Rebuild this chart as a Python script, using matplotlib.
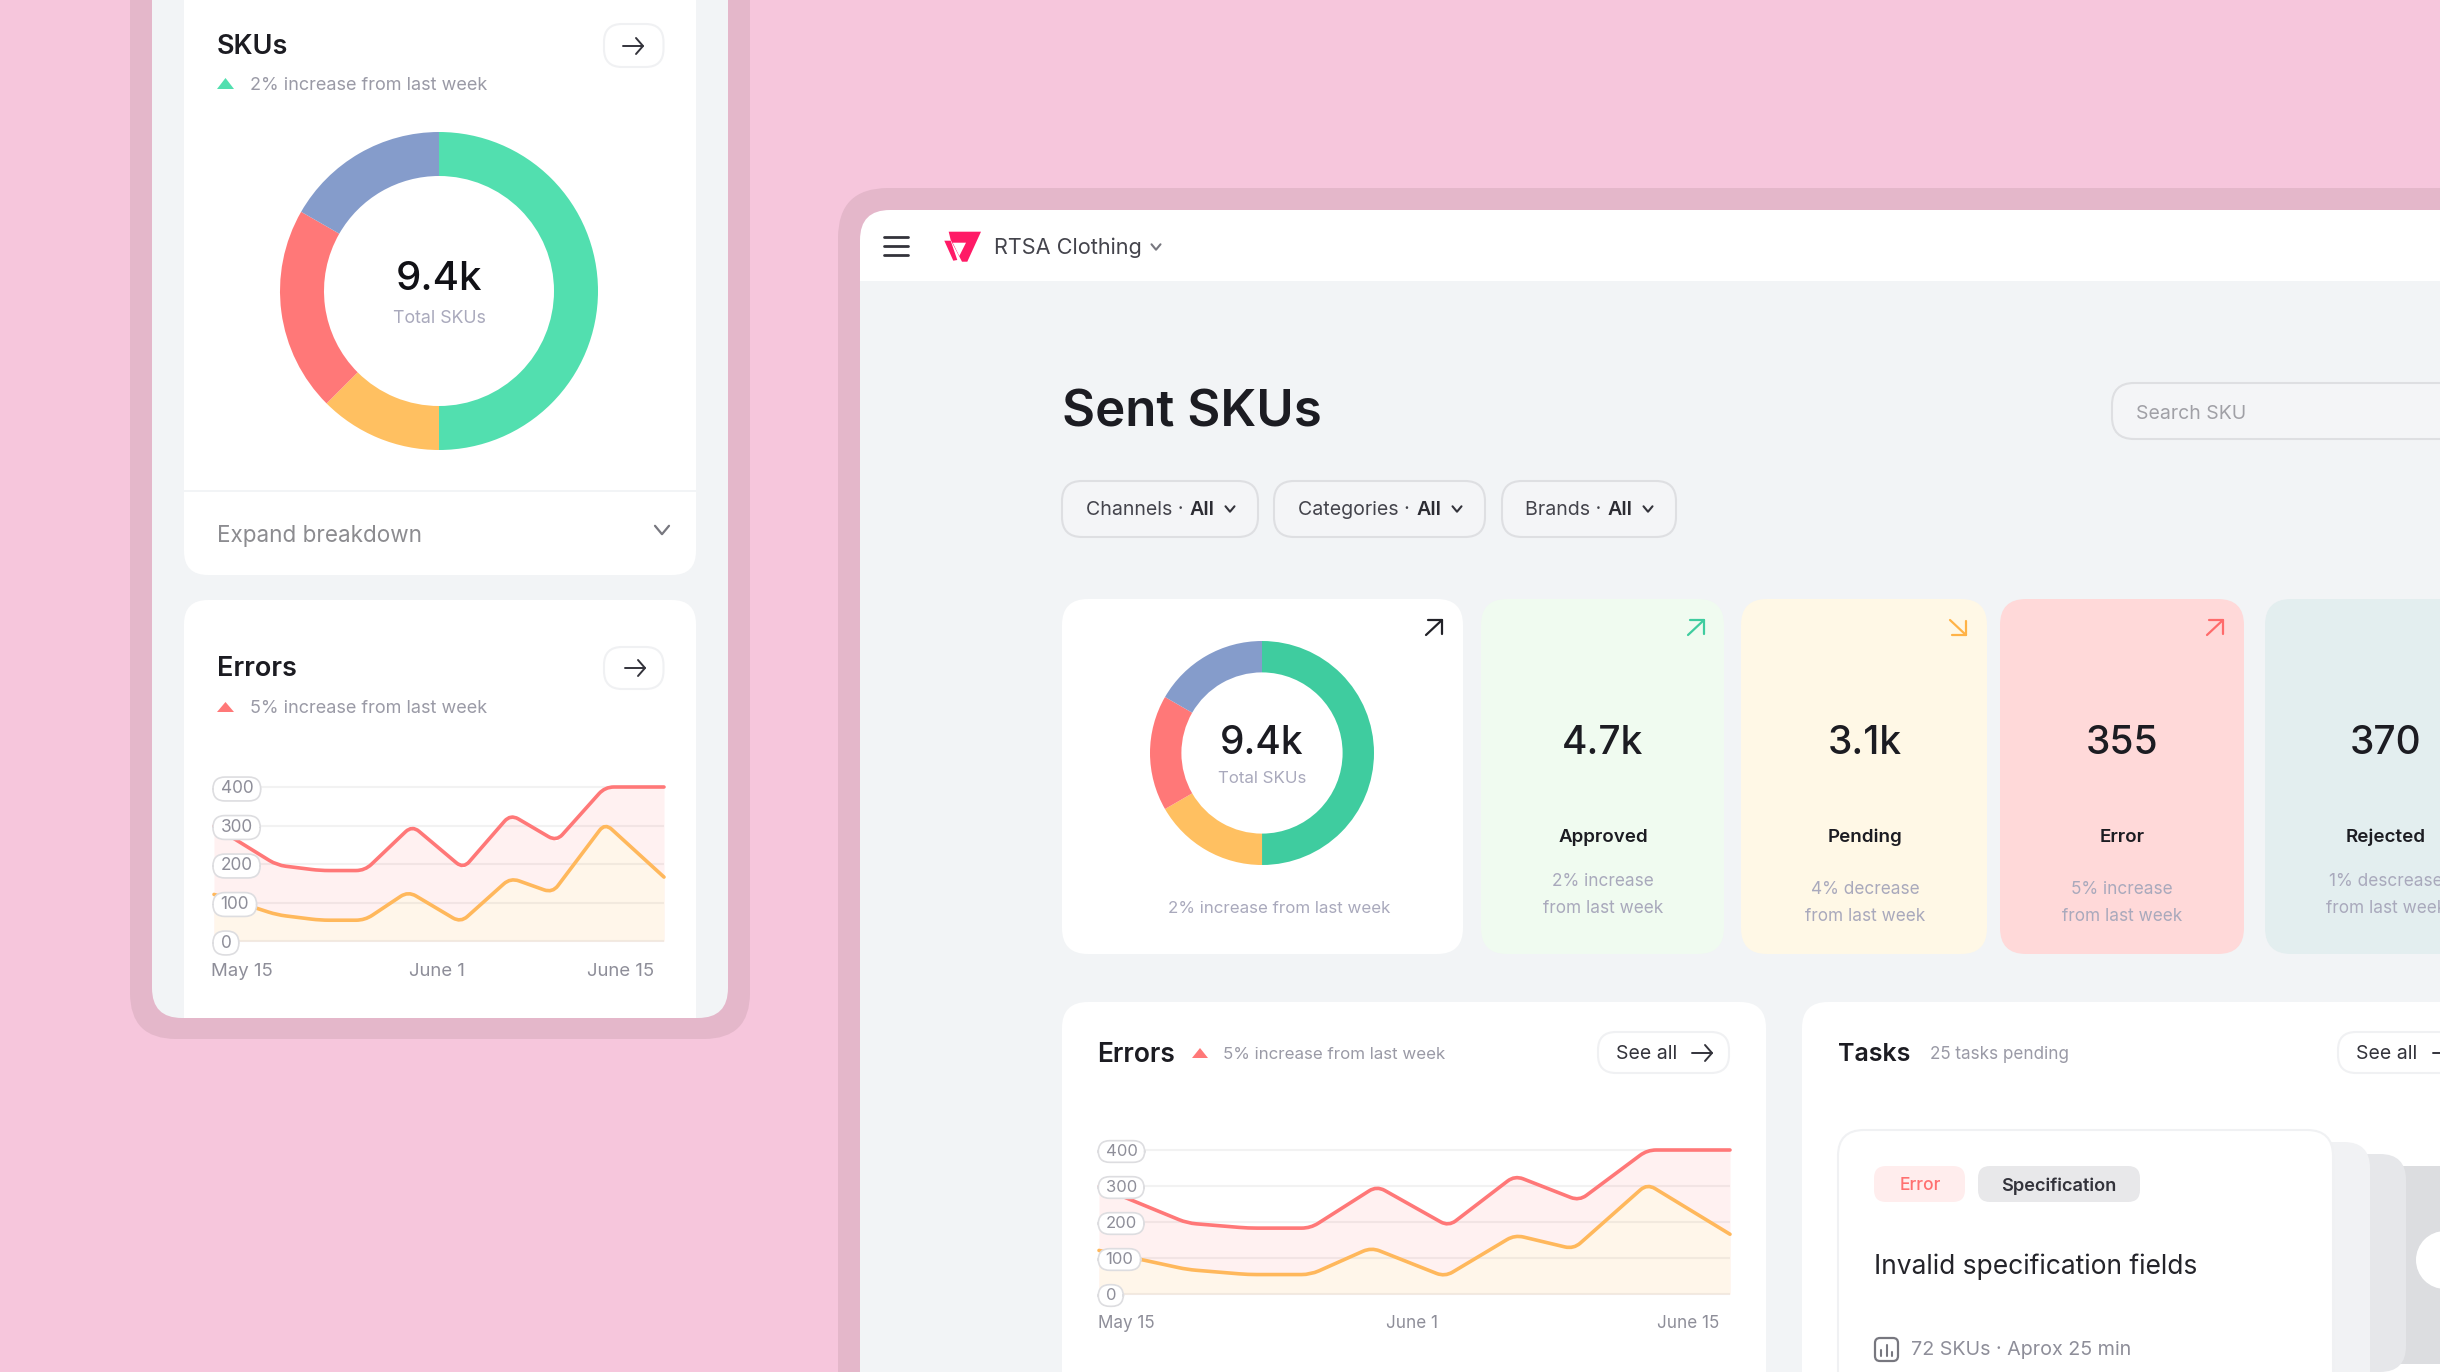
import matplotlib
matplotlib.use('Agg')
import matplotlib.pyplot as plt
from matplotlib.patches import FancyBboxPatch, Polygon, Rectangle, Circle, PathPatch, BoxStyle
from matplotlib.path import Path

plt.rcParams['font.family'] = ['Inter', 'DejaVu Sans']

W, H = 2440, 1372

# data
phone_donut = [50, 12.5, 20.8, 16.7]
main_donut = [50, 16.67, 16.67, 16.67]
donut_colors_phone = ['#52DFAF', '#FFC061', '#FF7878', '#859CCB']
donut_colors_main = ['#3FCC9F', '#FFC061', '#FF7878', '#859CCB']

red_days = [0, 4.8, 8.1, 11.5, 15.1, 19.0, 22.6, 26.1, 29.8, 34.3]
red_vals = [298, 197, 183, 183, 300, 188, 329, 259, 400, 400]
orange_days = [0, 4.8, 8.1, 11.5, 14.8, 18.8, 22.6, 25.8, 29.8, 34.3]
orange_vals = [121, 68, 54, 54, 129, 48, 164, 125, 306, 166]
y_ticks = [0, 100, 200, 300, 400]
x_labels = ['May 15', 'June 1', 'June 15']

card_values = ['4.7k', '3.1k', '355', '370']
card_names = ['Approved', 'Pending', 'Error', 'Rejected']
card_notes = [['2% increase', 'from last week'], ['4% decrease', 'from last week'],
              ['5% increase', 'from last week'], ['1% descrease', 'from last week']]

PINK = '#F6C6DC'
FRAME = '#E4B7CA'
GREY = '#F2F4F6'
INK = '#1C1C22'
MUTED = '#9A9AA6'
SOFT = '#A9A9BC'
RED = '#FF7878'
ORANGE = '#FFB85C'
GREEN = '#52DFAF'

fig = plt.figure(figsize=(W / 100, H / 100), dpi=100, facecolor=PINK)


def px_axes(x0, y0, x1, y1, z=1):
    return fig.add_axes([x0 / W, 1 - y1 / H, (x1 - x0) / W, (y1 - y0) / H], zorder=z)


bg = px_axes(0, 0, W, H, z=0)
fg = px_axes(0, 0, W, H, z=10)
for a in (bg, fg):
    a.set_xlim(0, W)
    a.set_ylim(H, 0)
    a.axis('off')


def rbox(x0, y0, x1, y1, r, fc, ec='none', lw=0, ax=bg):
    ax.add_patch(FancyBboxPatch((x0, y0), x1 - x0, y1 - y0, boxstyle=f'round,pad=0,rounding_size={r}',
                                fc=fc, ec=ec, lw=lw))


def T(x, y, s, size, color=INK, weight=400, ha='left'):
    # y is the middle of the capitals
    fg.text(x, y + 0.364 * size / 0.72, s, fontsize=size, color=color, fontweight=weight, ha=ha, va='baseline')


def stroke(xs, ys, color, lw=1.4):
    fg.plot(xs, ys, color=color, lw=lw, solid_capstyle='round', solid_joinstyle='round')


def arrow_right(x, y, color='#33333B', w=10):
    stroke([x - w, x + w], [y, y], color)
    stroke([x + w - 7, x + w, x + w - 7], [y - 8, y, y + 8], color)


def arrow_diag(x0, y0, x1, y1, color):
    stroke([x0, x1], [y0, y1], color, lw=1.6)
    sx = 1 if x1 > x0 else -1
    sy = 1 if y1 > y0 else -1
    stroke([x1 - sx * 14, x1, x1], [y1, y1, y1 - sy * 14], color, lw=1.6)


def chevron(x, y, w, color='#55555D', lw=1.5):
    stroke([x - w, x, x + w], [y - w * 0.6, y + w * 0.6, y - w * 0.6], color, lw)


def triangle(x0, x1, y0, y1, color):
    fg.add_patch(Polygon([(x0, y1), ((x0 + x1) / 2, y0), (x1, y1)], fc=color, ec='none'))


def rounded_line(ax, xs, ys, sx, sy, color, rad=9):
    # line with small rounded corners, rad in pixels
    verts = [(xs[0], ys[0])]
    codes = [Path.MOVETO]
    for i in range(1, len(xs) - 1):
        cur = (xs[i], ys[i])
        for j, other in enumerate([i - 1, i + 1]):
            dx = (xs[other] - xs[i]) * sx
            dy = (ys[other] - ys[i]) * sy
            t = min(rad / max((dx ** 2 + dy ** 2) ** 0.5, 1e-6), 0.5)
            p = (xs[i] + (xs[other] - xs[i]) * t, ys[i] + (ys[other] - ys[i]) * t)
            if j == 0:
                verts.append(p)
                codes.append(Path.LINETO)
            else:
                verts += [cur, p]
                codes += [Path.CURVE3, Path.CURVE3]
    verts.append((xs[-1], ys[-1]))
    codes.append(Path.LINETO)
    ax.add_patch(PathPatch(Path(verts, codes), fc='none', ec=color, lw=2.6, capstyle='round',
                           joinstyle='round', clip_on=False, zorder=2))


def donut(cx, cy, R, r, values, colors):
    ax = px_axes(cx - R, cy - R, cx + R, cy + R, z=2)
    ax.pie(values, colors=colors, startangle=90, counterclock=False, radius=1,
           wedgeprops=dict(width=1 - r / R, linewidth=0))
    ax.set_xlim(-1, 1)
    ax.set_ylim(-1, 1)


round_style = BoxStyle.Round(pad=0, rounding_size=0.7)


def pill(x0, y0, w, h, mutation_size):
    # tick label box, wider than it is tall around the digits
    dx = 0.44 * mutation_size
    dy = 0.2 * mutation_size
    return round_style(x0 - dx, y0 - dy, w + 2 * dx, h + 2 * dy, mutation_size)


def errors_chart(x0, x1, y400, y0, tick_days, label_pad, tick_size, label_size):
    ax = px_axes(x0, y400, x1, y0, z=3)
    ax.patch.set_alpha(0)
    ax.set_xlim(0, red_days[-1])
    ax.set_ylim(0, 400)
    ax.fill_between(red_days, red_vals, color='#FFF1F1', lw=0, zorder=1)
    ax.fill_between(orange_days, orange_vals, color='#FFF6EA', lw=0, zorder=1.1)
    ax.hlines(y_ticks, 0, red_days[-1], color='black', alpha=0.05, lw=1.6, zorder=1.5, clip_on=False)
    sx = (x1 - x0) / red_days[-1]
    sy = (y0 - y400) / 400
    rounded_line(ax, orange_days, orange_vals, sx, sy, ORANGE)
    rounded_line(ax, red_days, red_vals, sx, sy, RED)
    ax.set_axisbelow(False)
    for s in ax.spines.values():
        s.set_visible(False)
    ax.set_yticks(y_ticks)
    ax.set_yticklabels([str(v) for v in y_ticks], fontsize=tick_size, color='#8E8E99')
    ax.set_xticks(tick_days)
    ax.set_xticklabels(x_labels, fontsize=label_size, color='#8E8E99')
    ax.tick_params(axis='y', length=0, pad=-4.7)
    ax.tick_params(axis='x', length=0, pad=label_pad)
    for lab in ax.get_yticklabels():
        lab.set_ha('left')
        lab.set_bbox(dict(boxstyle=pill, fc='white', ec='#DDDDE0', lw=1.2))


# phone on the left
rbox(130, -80, 750, 1039, 46, FRAME)
rbox(152, -80, 728, 1018, 30, GREY)
rbox(184, -60, 696, 575, 24, 'white')
bg.add_patch(Rectangle((184, 490), 512, 2, fc=GREY, ec='none'))
rbox(184, 600, 696, 700, 24, 'white')
bg.add_patch(Rectangle((184, 650), 512, 368, fc='white', ec='none'))

T(217, 44, 'SKUs', 19.5, weight=600)
rbox(604, 24, 663.5, 67, 18, 'white', ec='#F0F1F3', lw=1.5)
arrow_right(633, 46)
triangle(217, 234, 78, 89, GREEN)
T(250, 83.5, '2% increase from last week', 13, MUTED)
donut(439, 291, 159, 115, phone_donut, donut_colors_phone)
T(439, 275.5, '9.4k', 29, '#111116', 500, ha='center')
T(439, 317, 'Total SKUs', 12.8, SOFT, ha='center')
T(217, 534, 'Expand breakdown', 16.2, '#8C8C90')
chevron(662, 530, 7, '#77777F', 1.6)

T(217, 666, 'Errors', 19.5, weight=600)
rbox(604, 647, 663.5, 689, 18, 'white', ec='#F0F1F3', lw=1.5)
arrow_right(635, 668)
triangle(217, 234, 702, 712, RED)
T(250, 706, '5% increase from last week', 13, MUTED)
errors_chart(214, 664, 787, 941, [2.1, 17.0, 31.0], 16, 12.4, 13.4)

# main window
rbox(838, 188, 2700, 1600, 50, FRAME)
rbox(860, 210, 2700, 1600, 30, 'white')
bg.add_patch(Rectangle((860, 281), W - 860, H - 281, fc=GREY, ec='none'))

for y in (237, 246, 255):
    stroke([884, 908], [y, y], '#33333B', 2.0)
fg.add_patch(Polygon([(948.7, 231.7), (981, 231.7), (967.3, 261.7), (962, 261.7), (950.7, 240)], fc='#FF1A66', ec='none'))
fg.add_patch(Polygon([(944.3, 240.7), (950.7, 240.7), (957.3, 260), (953.3, 260.7)], fc='#FF1A66', ec='none'))
fg.add_patch(Polygon([(952.7, 242.7), (966, 242.7), (959.3, 256)], fc='white', ec='none'))
T(994, 246.5, 'RTSA Clothing', 15.6, '#44444C')
chevron(1156, 247, 4.5, '#77777F')

T(1062, 408, 'Sent SKUs', 36.7, weight=600)
rbox(2112, 383, 2700, 439, 22, '#F4F5F7', ec='#DEDFE2', lw=1.5)
T(2136, 412, 'Search SKU', 14, '#A0A0A6')

filters = [(1062, 1258, 1086, 1214, 'Channels · '), (1274, 1485, 1298, 1441, 'Categories · '),
           (1502, 1676, 1525, 1632, 'Brands · ')]
for x0, x1, tx0, tx1, name in filters:
    rbox(x0, 481, x1, 537, 20, '#F4F5F7', ec='#DEDFE2', lw=1.5)
    T(tx0, 508, name, 14.1, '#44444C')
    T(tx1, 508, 'All', 14.2, '#2C2C33', 600, ha='right')
    chevron(tx1 + 16, 509, 4.5, '#33333B', 1.5)

# stat cards
rbox(1062, 599, 1463, 954, 26, 'white')
donut(1262, 753, 112, 80.6, main_donut, donut_colors_main)
T(1262, 740, '9.4k', 28, INK, 500, ha='center')
T(1262, 777, 'Total SKUs', 12.2, SOFT, ha='center')
T(1279, 907, '2% increase from last week', 12.2, SOFT, ha='center')
arrow_diag(1426, 635, 1442, 620, '#222228')

card_boxes = [(1481, 1724), (1741, 1987), (2000, 2244), (2265, 2700)]
card_fill = ['#F0FBF0', '#FFF8E6', '#FFD9D9', '#E3EEEF']
card_center = [1603, 1865, 2122, 2386]
note_y = [880, 888, 888, 880]
for i in range(4):
    rbox(card_boxes[i][0], 599, card_boxes[i][1], 954, 26, card_fill[i])
    T(card_center[i], 740, card_values[i], 28, INK, 500, ha='center')
    T(card_center[i], 835.5, card_names[i], 13.5, INK, 600, ha='center')
    T(card_center[i], note_y[i], card_notes[i][0], 12.4, SOFT, ha='center')
    T(card_center[i], note_y[i] + 27, card_notes[i][1], 12.4, SOFT, ha='center')
arrow_diag(1688, 635, 1704, 620, '#3FCC9F')
arrow_diag(1950, 620, 1966, 635, '#FFB347')
arrow_diag(2207, 635, 2223, 620, '#FF6B6B')

# errors panel
rbox(1062, 1002, 1766, 1500, 26, 'white')
T(1097, 1052, 'Errors', 19, weight=600)
triangle(1192, 1208, 1048, 1058, RED)
T(1223, 1053, '5% increase from last week', 12.2, MUTED)
rbox(1598, 1032, 1729, 1073, 18, 'white', ec='#F0F1F3', lw=1.5)
T(1616, 1052, 'See all', 14, '#33333B')
arrow_right(1702, 1053)
errors_chart(1099, 1730, 1150, 1294, [1.5, 17.0, 32.0], 15, 12, 12.3)

# tasks panel
rbox(1802, 1002, 2700, 1500, 26, 'white')
T(1838, 1052, 'Tasks', 18, weight=600)
T(1930, 1053, '25 tasks pending', 12.3, MUTED)
rbox(2338, 1032, 2700, 1073, 18, 'white', ec='#F0F1F3', lw=1.5)
T(2356, 1052, 'See all', 14, '#33333B')
stroke([2433, 2445], [1053, 1053], '#33333B')

rbox(2200, 1166, 2700, 1364, 26, '#DCDDE0')
bg.add_patch(Circle((2445, 1260), 29, fc='white', ec='none'))
rbox(2200, 1154, 2406, 1372, 26, '#E6E7EA')
rbox(2200, 1142, 2370, 1500, 26, '#F1F2F4')
rbox(1838, 1130, 2333, 1500, 26, 'white', ec='#F0F1F3', lw=1.5)

rbox(1874, 1166, 1965, 1202, 12, '#FFEDED')
rbox(1978, 1166, 2140, 1202, 12, '#E8E8EA')
T(1920, 1184, 'Error', 12.6, '#FF7070', 500, ha='center')
T(2059, 1184, 'Specification', 13.1, '#33333B', 600, ha='center')
T(1874, 1264, 'Invalid specification fields', 19, '#24242A')
rbox(1875, 1338, 1898, 1361, 5, 'none', ec='#77777F', lw=1.6, ax=fg)
for bx, by in ((1881, 1350), (1886.5, 1345), (1892, 1352)):
    stroke([bx, bx], [by, 1356], '#77777F', 1.5)
T(1911, 1348, '72 SKUs · Aprox 25 min', 14.2, '#8E8E99')

fig.savefig('out.png', dpi=100, facecolor=fig.get_facecolor())
